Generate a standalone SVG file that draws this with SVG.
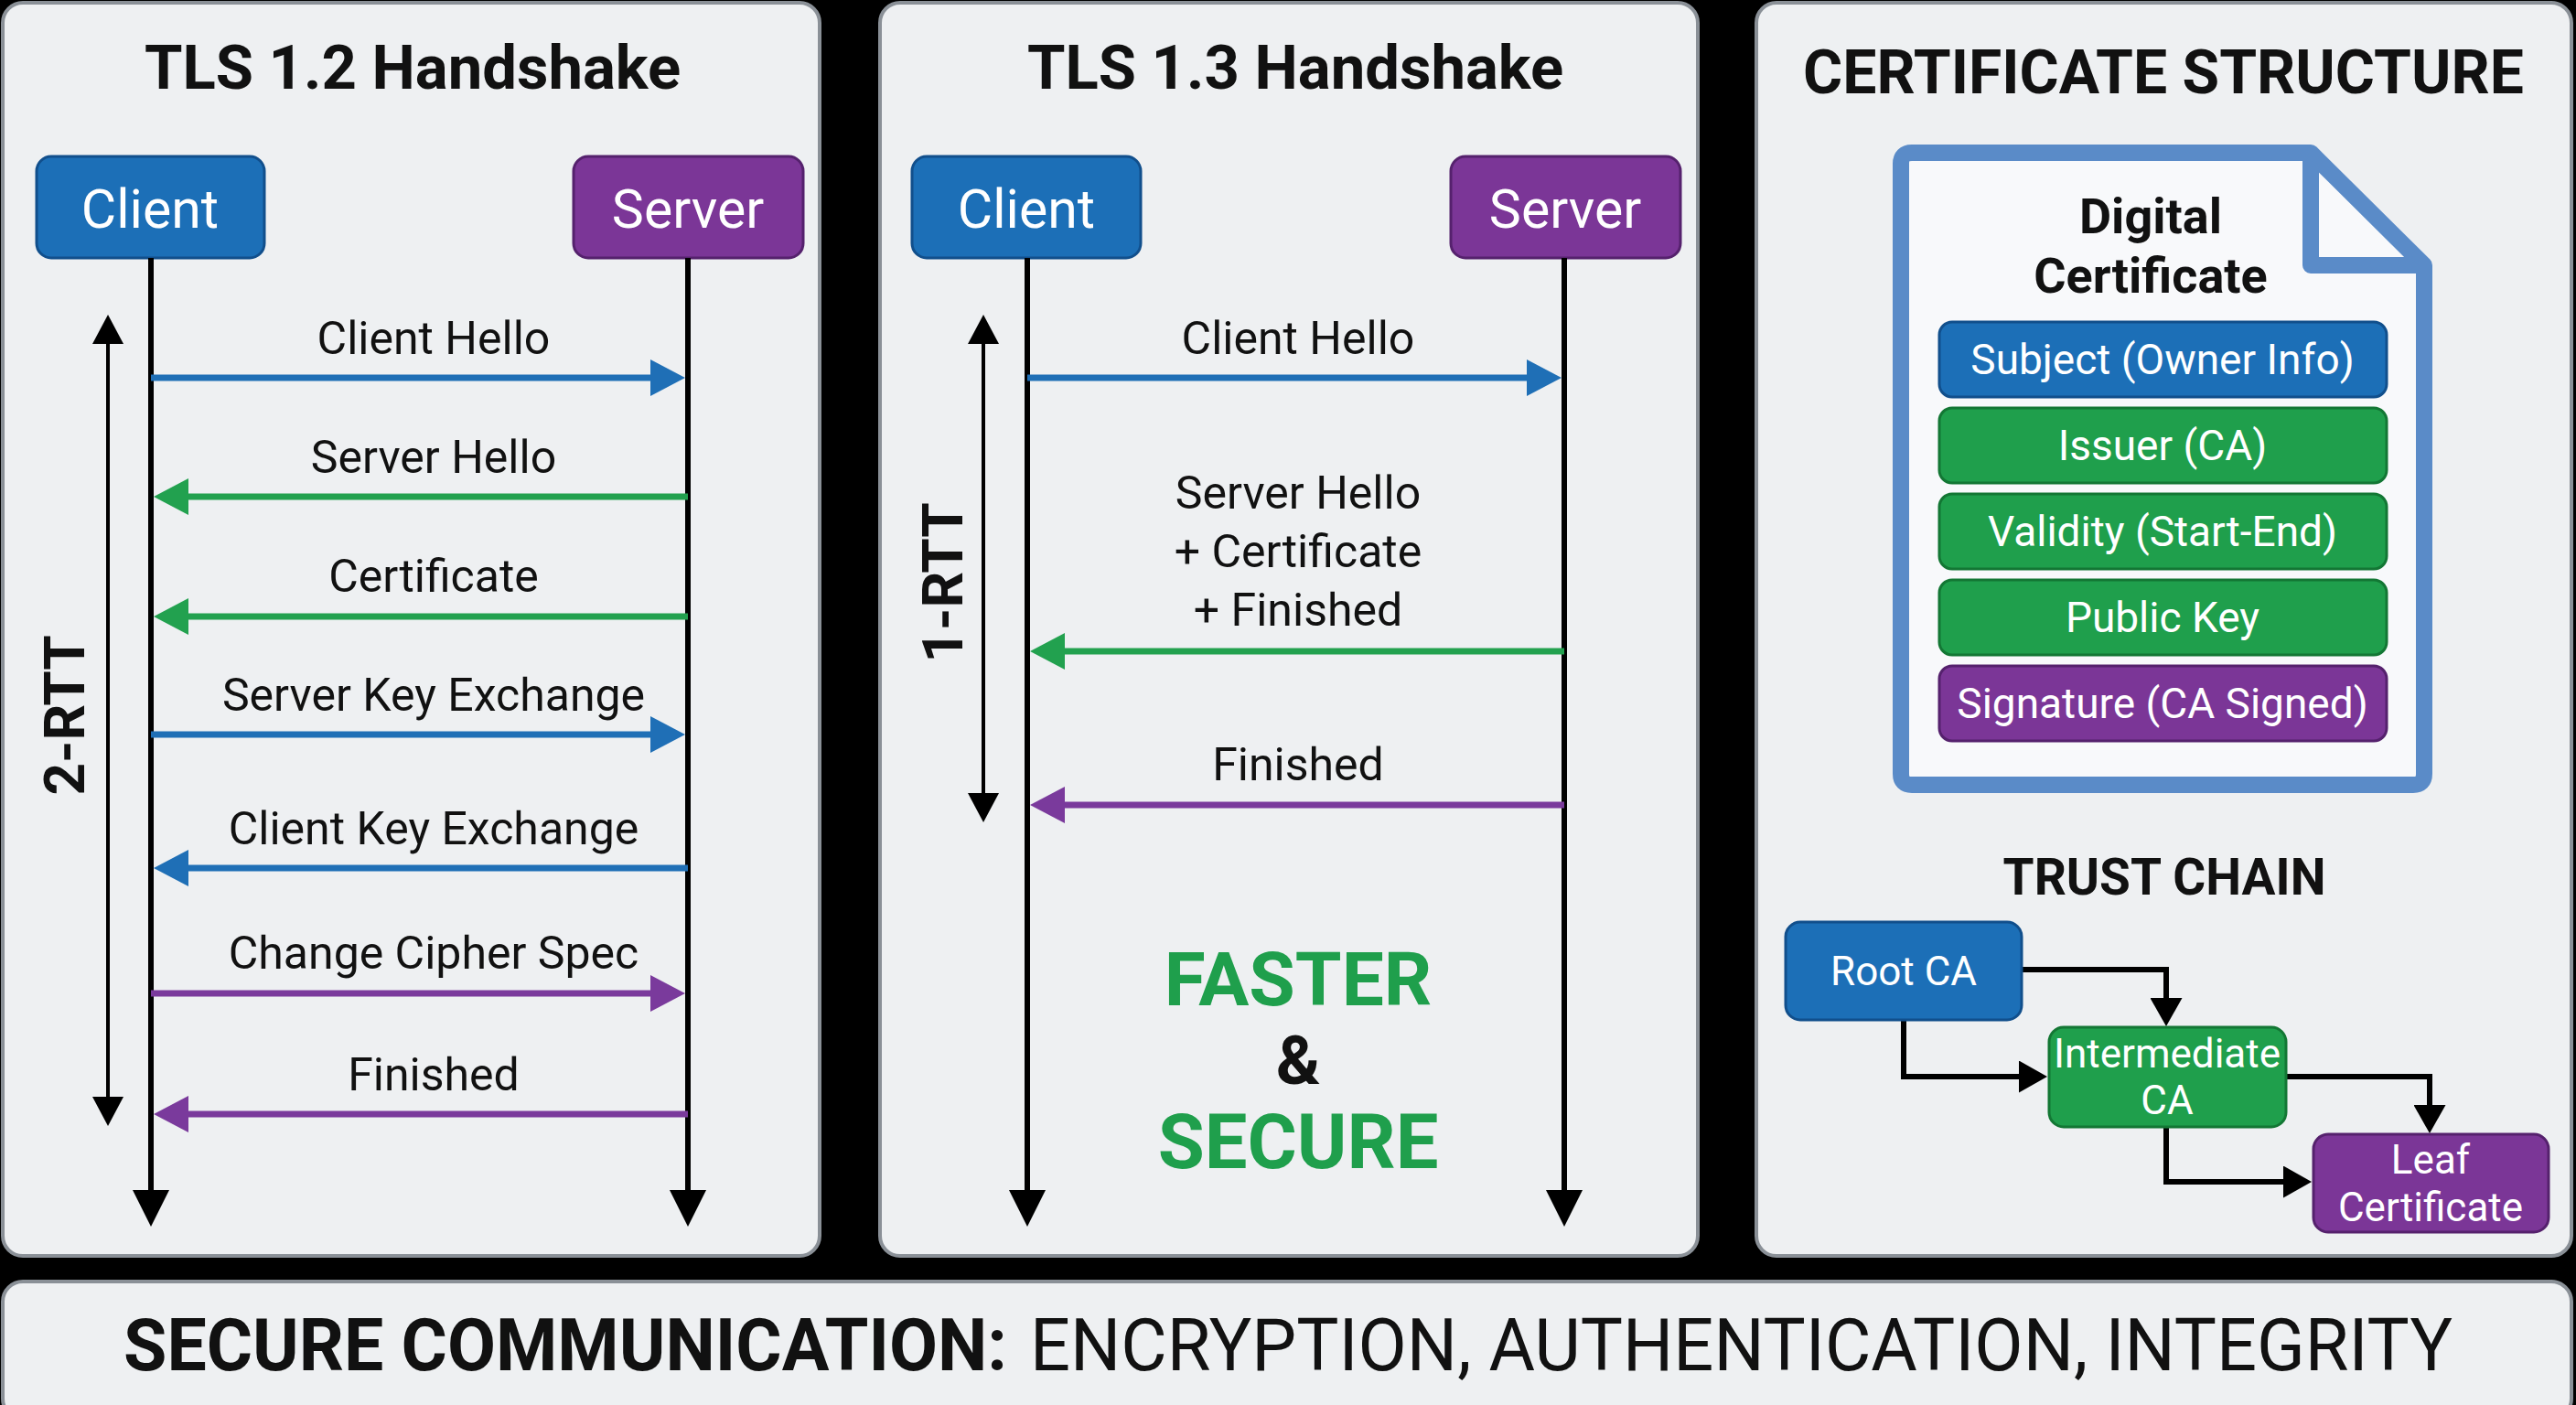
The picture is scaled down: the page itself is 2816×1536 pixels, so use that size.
<svg xmlns="http://www.w3.org/2000/svg" width="2816" height="1536" viewBox="0 0 2816 1536">
  <style>
    .panel { fill: #eef0f2; stroke: #8a9097; stroke-width: 4; }
    .title { font-family: Roboto, "Liberation Sans", sans-serif; font-weight: 700; fill: #111; text-anchor: middle; }
    .lbl { font-family: Roboto, "Liberation Sans", sans-serif; font-size: 50px; fill: #111; text-anchor: middle; }
    .wt { font-family: Roboto, "Liberation Sans", sans-serif; fill: #fff; text-anchor: middle; }
    .blue { fill: #1c6fb7; stroke: #114f8c; stroke-width: 3; }
    .purple { fill: #7b3697; stroke: #55216d; stroke-width: 3; }
    .green { fill: #1f9f4c; stroke: #137734; stroke-width: 3; }
    .life { stroke: #000; stroke-width: 6; fill: none; }
    .rtt { stroke: #000; stroke-width: 4; fill: none; }
    .chain { stroke: #000; stroke-width: 6; fill: none; }
    .mb { stroke: #1f6fb6; stroke-width: 7; }
    .mg { stroke: #22a14f; stroke-width: 7; }
    .mp { stroke: #7a3a9c; stroke-width: 7; }
  </style>
  <defs>
    <marker id="hb" viewBox="0 0 38 40" refX="1" refY="20" markerWidth="38" markerHeight="40" markerUnits="userSpaceOnUse" orient="auto"><path d="M0,0 L38,20 L0,40 Z" fill="#1f6fb6"/></marker>
    <marker id="hg" viewBox="0 0 38 40" refX="1" refY="20" markerWidth="38" markerHeight="40" markerUnits="userSpaceOnUse" orient="auto"><path d="M0,0 L38,20 L0,40 Z" fill="#22a14f"/></marker>
    <marker id="hp" viewBox="0 0 38 40" refX="1" refY="20" markerWidth="38" markerHeight="40" markerUnits="userSpaceOnUse" orient="auto"><path d="M0,0 L38,20 L0,40 Z" fill="#7a3a9c"/></marker>
    <marker id="hl" viewBox="0 0 40 40" refX="1" refY="20" markerWidth="40" markerHeight="40" markerUnits="userSpaceOnUse" orient="auto"><path d="M0,0 L40,20 L0,40 Z" fill="#000"/></marker>
    <marker id="hr" viewBox="0 0 32 34" refX="1" refY="17" markerWidth="32" markerHeight="34" markerUnits="userSpaceOnUse" orient="auto-start-reverse"><path d="M0,0 L32,17 L0,34 Z" fill="#000"/></marker>
    <marker id="hc" viewBox="0 0 31 35" refX="1" refY="17.5" markerWidth="31" markerHeight="35" markerUnits="userSpaceOnUse" orient="auto"><path d="M0,0 L31,17.5 L0,35 Z" fill="#000"/></marker>
  </defs>

  <rect width="2816" height="1536" fill="#000"/>

  <!-- Panels -->
  <g id="panel-tls12">
    <rect class="panel" x="3" y="3" width="893" height="1370" rx="22"/>
    <text class="title" x="451" y="97" font-size="67">TLS 1.2 Handshake</text>
  </g>
  <g id="panel-tls13">
    <rect class="panel" x="962" y="3" width="894" height="1370" rx="22"/>
    <text class="title" x="1416" y="97" font-size="67">TLS 1.3 Handshake</text>
  </g>
  <g id="panel-cert">
    <rect class="panel" x="1920" y="3" width="891" height="1370" rx="22"/>
    <text class="title" x="2365" y="102" font-size="66">CERTIFICATE STRUCTURE</text>
  </g>

  <!-- TLS 1.2 nodes -->
  <g id="client12">
    <rect class="blue" x="40" y="171" width="249" height="111" rx="16"/>
    <text class="wt" x="164" y="249" font-size="59">Client</text>
  </g>
  <g id="server12">
    <rect class="purple" x="627" y="171" width="251" height="111" rx="16"/>
    <text class="wt" x="752" y="249" font-size="59">Server</text>
  </g>

  <!-- TLS 1.3 nodes -->
  <g id="client13">
    <rect class="blue" x="997" y="171" width="250" height="111" rx="16"/>
    <text class="wt" x="1122" y="249" font-size="59">Client</text>
  </g>
  <g id="server13">
    <rect class="purple" x="1586" y="171" width="251" height="111" rx="16"/>
    <text class="wt" x="1711" y="249" font-size="59">Server</text>
  </g>

  <!-- Connectors -->
  <g id="connectors">
    <!-- lifelines -->
    <line class="life" x1="165" y1="282" x2="165" y2="1302" marker-end="url(#hl)"/>
    <line class="life" x1="752" y1="282" x2="752" y2="1302" marker-end="url(#hl)"/>
    <line class="life" x1="1123" y1="282" x2="1123" y2="1302" marker-end="url(#hl)"/>
    <line class="life" x1="1710" y1="282" x2="1710" y2="1302" marker-end="url(#hl)"/>

    <!-- RTT arrows -->
    <line class="rtt" x1="118" y1="375" x2="118" y2="1200" marker-start="url(#hr)" marker-end="url(#hr)"/>
    <line class="rtt" x1="1075" y1="375" x2="1075" y2="868" marker-start="url(#hr)" marker-end="url(#hr)"/>

    <!-- TLS 1.2 messages -->
    <line class="mb" x1="165" y1="413" x2="712" y2="413" marker-end="url(#hb)"/>
    <line class="mg" x1="752" y1="543" x2="205" y2="543" marker-end="url(#hg)"/>
    <line class="mg" x1="752" y1="674" x2="205" y2="674" marker-end="url(#hg)"/>
    <line class="mb" x1="165" y1="803" x2="712" y2="803" marker-end="url(#hb)"/>
    <line class="mb" x1="752" y1="949" x2="205" y2="949" marker-end="url(#hb)"/>
    <line class="mp" x1="165" y1="1086" x2="712" y2="1086" marker-end="url(#hp)"/>
    <line class="mp" x1="752" y1="1218" x2="205" y2="1218" marker-end="url(#hp)"/>

    <!-- TLS 1.3 messages -->
    <line class="mb" x1="1123" y1="413" x2="1670" y2="413" marker-end="url(#hb)"/>
    <line class="mg" x1="1710" y1="712" x2="1163" y2="712" marker-end="url(#hg)"/>
    <line class="mp" x1="1710" y1="880" x2="1163" y2="880" marker-end="url(#hp)"/>

    <!-- trust chain -->
    <polyline class="chain" points="2210,1060 2368,1060 2368,1092"/>
    <polyline class="chain" points="2081,1115 2081,1177 2208,1177"/>
    <polyline class="chain" points="2499,1177 2656,1177 2656,1209"/>
    <polyline class="chain" points="2368,1232 2368,1292 2497,1292"/>
    <line class="chain" x1="2368" y1="1090" x2="2368" y2="1092" marker-end="url(#hc)"/>
    <line class="chain" x1="2206" y1="1177" x2="2208" y2="1177" marker-end="url(#hc)"/>
    <line class="chain" x1="2656" y1="1207" x2="2656" y2="1209" marker-end="url(#hc)"/>
    <line class="chain" x1="2495" y1="1292" x2="2497" y2="1292" marker-end="url(#hc)"/>
  </g>

  <!-- Message labels -->
  <g id="labels12">
    <text class="lbl" x="474" y="387">Client Hello</text>
    <text class="lbl" x="474" y="517">Server Hello</text>
    <text class="lbl" x="474" y="647">Certificate</text>
    <text class="lbl" x="474" y="777">Server Key Exchange</text>
    <text class="lbl" x="474" y="923">Client Key Exchange</text>
    <text class="lbl" x="474" y="1059">Change Cipher Spec</text>
    <text class="lbl" x="474" y="1192">Finished</text>
    <text class="title" font-size="62" transform="translate(92,782) rotate(-90)">2-RTT</text>
  </g>
  <g id="labels13">
    <text class="lbl" x="1419" y="387">Client Hello</text>
    <text class="lbl" x="1419" y="556">Server Hello</text>
    <text class="lbl" x="1419" y="620">+ Certificate</text>
    <text class="lbl" x="1419" y="684">+ Finished</text>
    <text class="lbl" x="1419" y="853">Finished</text>
    <text class="title" font-size="62" transform="translate(1052,637) rotate(-90)">1-RTT</text>
    <text class="title" x="1419" y="1099" font-size="82" style="fill:#1f9f4c">FASTER</text>
    <text class="title" x="1419" y="1185" font-size="74">&amp;</text>
    <text class="title" x="1419" y="1277" font-size="83" style="fill:#1f9f4c">SECURE</text>
  </g>

  <!-- Digital certificate -->
  <g id="digital-certificate">
    <path d="M2090,167 H2526 L2650,290 V846 Q2650,858 2638,858 H2090 Q2078,858 2078,846 V179 Q2078,167 2090,167 Z" fill="#f8f9fb" stroke="#5a8bc8" stroke-width="18" stroke-linejoin="round"/>
    <path d="M2526,167 V290 H2650" fill="none" stroke="#5a8bc8" stroke-width="18" stroke-linejoin="round"/>
    <text class="title" x="2351" y="255" font-size="54">Digital</text>
    <text class="title" x="2351" y="320" font-size="54">Certificate</text>
  </g>
  <g id="field-subject">
    <rect class="blue" x="2120" y="352" width="489" height="82" rx="14"/>
    <text class="wt" x="2364" y="409" font-size="46">Subject (Owner Info)</text>
  </g>
  <g id="field-issuer">
    <rect class="green" x="2120" y="446" width="489" height="82" rx="14"/>
    <text class="wt" x="2364" y="503" font-size="46">Issuer (CA)</text>
  </g>
  <g id="field-validity">
    <rect class="green" x="2120" y="540" width="489" height="82" rx="14"/>
    <text class="wt" x="2364" y="597" font-size="46">Validity (Start-End)</text>
  </g>
  <g id="field-pubkey">
    <rect class="green" x="2120" y="634" width="489" height="82" rx="14"/>
    <text class="wt" x="2364" y="691" font-size="46">Public Key</text>
  </g>
  <g id="field-signature">
    <rect class="purple" x="2120" y="728" width="489" height="82" rx="14"/>
    <text class="wt" x="2364" y="785" font-size="46">Signature (CA Signed)</text>
  </g>

  <!-- Trust chain -->
  <text class="title" x="2366" y="978" font-size="55">TRUST CHAIN</text>
  <g id="root-ca">
    <rect class="blue" x="1952" y="1008" width="258" height="107" rx="16"/>
    <text class="wt" x="2081" y="1077" font-size="44">Root CA</text>
  </g>
  <g id="intermediate-ca">
    <rect class="green" x="2240" y="1123" width="259" height="109" rx="16"/>
    <text class="wt" x="2369" y="1167" font-size="44">Intermediate</text>
    <text class="wt" x="2369" y="1218" font-size="44">CA</text>
  </g>
  <g id="leaf-cert">
    <rect class="purple" x="2529" y="1240" width="257" height="107" rx="16"/>
    <text class="wt" x="2657" y="1283" font-size="44">Leaf</text>
    <text class="wt" x="2657" y="1335" font-size="44">Certificate</text>
  </g>

  <!-- Bottom bar -->
  <g id="footer">
    <rect class="panel" x="3" y="1401" width="2808" height="150" rx="22"/>
    <text x="135" y="1498" font-family="Roboto, 'Liberation Sans', sans-serif" font-weight="700" font-size="80" fill="#111" textLength="966" lengthAdjust="spacingAndGlyphs">SECURE COMMUNICATION:</text>
    <text x="1126" y="1498" font-family="Roboto, 'Liberation Sans', sans-serif" font-size="80" fill="#111" textLength="1555" lengthAdjust="spacingAndGlyphs">ENCRYPTION, AUTHENTICATION, INTEGRITY</text>
  </g>
</svg>
